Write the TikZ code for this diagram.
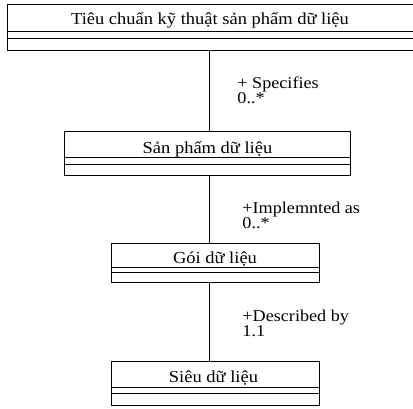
\documentclass[tikz,border=0pt]{standalone}
\usepackage{fontspec}
\setmainfont{Liberation Serif}
\newfontfamily\diagfont[FakeStretch=1.1]{Liberation Serif}
\begin{document}
\begin{tikzpicture}[x=1pt, y=-1pt, line width=0.9pt,
  classname/.style={font=\diagfont\fontsize{16.8}{15}\selectfont, inner sep=0pt, anchor=base},
  rolelabel/.style={font=\diagfont\fontsize{16.5}{15}\selectfont, anchor=base west, inner sep=0pt},
  multlabel/.style={font=\diagfont\fontsize{16.5}{15}\selectfont, anchor=base west, inner sep=0pt, text height=7pt},
  assoc/.style={draw, line width=0.9pt}]
\useasboundingbox (0,0) rectangle (413,408);
\clip (0,0) rectangle (413,408);

% class boxes: name compartment, attribute and operation compartments
\node[draw, inner sep=0pt, minimum width=414pt, minimum height=46pt, anchor=north west] (spec) at (7,4) {};
\draw (7,31) -- (421,31) (7,38.5) -- (421,38.5);
\node[classname] (specname) at (210,24.5) {Tiêu chuẩn kỹ thuật sản phẩm dữ liệu};

\node[draw, inner sep=0pt, minimum width=286pt, minimum height=44pt, anchor=north west] (prod) at (64,131) {};
\draw (prod.west |- 0,157) -- (prod.east |- 0,157) (prod.west |- 0,164) -- (prod.east |- 0,164);
\node[classname] (prodname) at (207.5,153) {Sản phẩm dữ liệu};

\node[draw, inner sep=0pt, minimum width=208pt, minimum height=39pt, anchor=north west] (pkg) at (111,243) {};
\draw (pkg.west |- 0,267) -- (pkg.east |- 0,267) (pkg.west |- 0,272.5) -- (pkg.east |- 0,272.5);
\node[classname] (pkgname) at (215,263) {Gói dữ liệu};

\node[draw, inner sep=0pt, minimum width=208pt, minimum height=44pt, anchor=north west] (meta) at (111,361) {};
\draw (meta.west |- 0,387) -- (meta.east |- 0,387) (meta.west |- 0,393) -- (meta.east |- 0,393);
\node[classname] (metaname) at (213.5,382.5) {Siêu dữ liệu};

% associations along a common vertical axis
\coordinate (axis) at (209.5,0);
\draw[assoc] (spec.south -| axis) -- (prod.north -| axis);
\draw[assoc] (prod.south -| axis) -- (pkg.north -| axis);
\draw[assoc] (pkg.south -| axis) -- (meta.north -| axis);

% role names and multiplicities
\node[rolelabel] (r1) at (237,88) {+ Specifies};
\node[multlabel] (m1) at (237,103.5) {0..*};
\node[rolelabel] (r2) at (242,213) {+Implemnted as};
\node[multlabel] (m2) at (242,228.5) {0..*};
\node[rolelabel] (r3) at (242,321) {+Described by};
\node[multlabel] (m3) at (242,336.5) {1.1};
\end{tikzpicture}
\end{document}
